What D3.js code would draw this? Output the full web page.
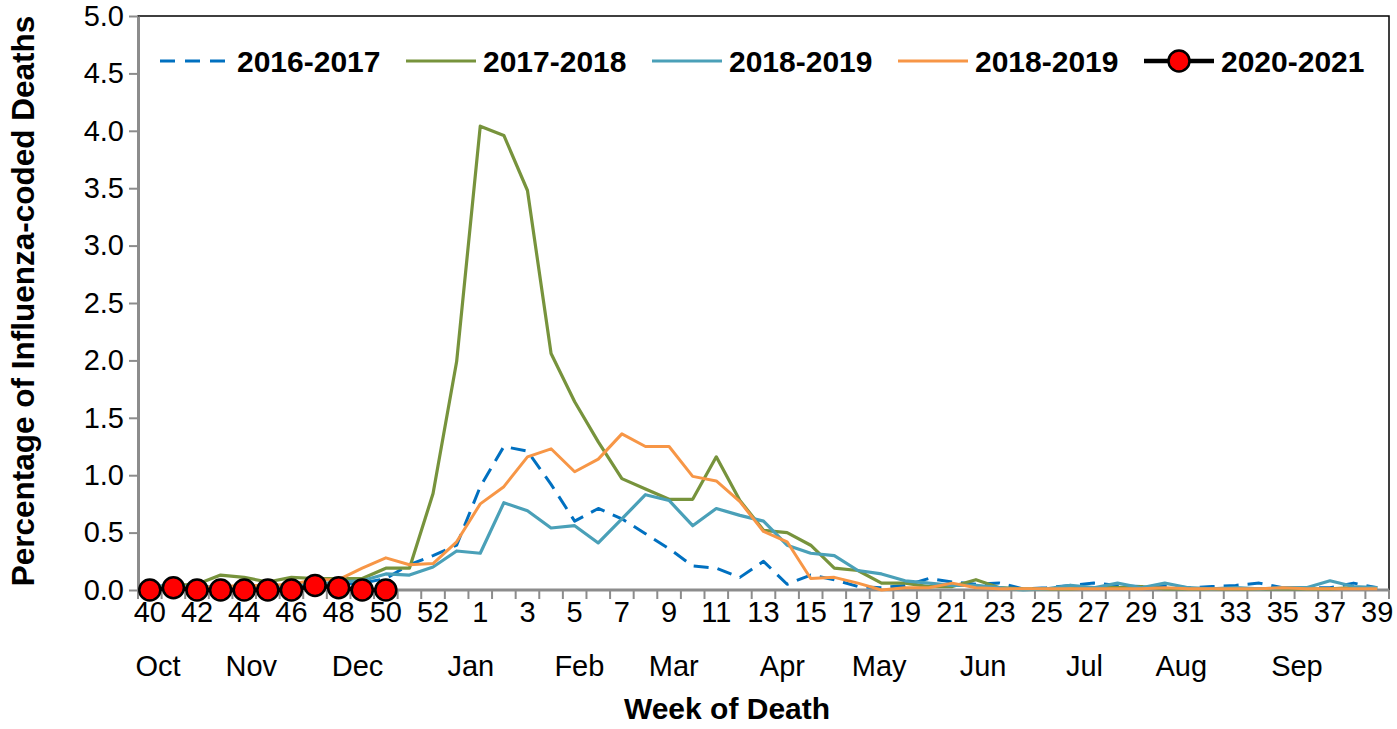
<!DOCTYPE html>
<html>
<head>
<meta charset="utf-8">
<script src="https://cdn.jsdelivr.net/npm/d3@7"></script>
<style>
    body { margin: 0; background: #fff; }
    svg { display: block; font-family: "Liberation Sans", Arial, sans-serif; }
    .tick-label { font-size: 29px; fill: #000; }
    .axis-title { font-size: 30px; font-weight: bold; fill: #000; }
    .axis-title.y-title { font-size: 31.5px; }
    .legend-label { font-size: 30px; font-weight: bold; fill: #000; }
</style>
</head>
<body>
<div id="chart"></div>
<script>
// Week numbers, Oct (week 40) through Sep (week 39)
const weeks = [40, 41, 42, 43, 44, 45, 46, 47, 48, 49, 50, 51, 52, 53,
    1, 2, 3, 4, 5, 6, 7, 8, 9, 10, 11, 12, 13, 14, 15, 16, 17, 18, 19, 20,
    21, 22, 23, 24, 25, 26, 27, 28, 29, 30, 31, 32, 33, 34, 35, 36, 37, 38, 39];

const season1617 = [0.03, 0.04, 0.03, 0.02, 0.03, 0.02, 0.03, 0.04, 0.05, 0.06, 0.10, 0.22, 0.30, 0.39,
    0.90, 1.25, 1.21, 0.92, 0.60, 0.71, 0.62, 0.49, 0.36, 0.21, 0.19, 0.11, 0.25, 0.05, 0.13, 0.09, 0.03, 0.02, 0.04, 0.10,
    0.07, 0.05, 0.06, 0.01, 0.02, 0.04, 0.06, 0.04, 0.03, 0.04, 0.02, 0.03, 0.04, 0.06, 0.02, 0.02, 0.02, 0.06, 0.02];

const season1718 = [0.02, 0.04, 0.05, 0.13, 0.11, 0.07, 0.11, 0.10, 0.10, 0.10, 0.19, 0.19, 0.84, 1.99,
    4.04, 3.96, 3.48, 2.06, 1.64, 1.29, 0.97, 0.88, 0.79, 0.79, 1.16, 0.78, 0.52, 0.50, 0.39, 0.19, 0.17, 0.06, 0.06, 0.03,
    0.03, 0.09, 0.02, 0.01, 0.01, 0.01, 0.02, 0.02, 0.03, 0.01, 0.01, 0.01, 0.01, 0.01, 0.01, 0.01, 0.01, 0.02, 0.02];

const season1819 = [0.02, 0.03, 0.03, 0.02, 0.03, 0.03, 0.04, 0.05, 0.07, 0.08, 0.14, 0.13, 0.20, 0.34,
    0.32, 0.76, 0.69, 0.54, 0.56, 0.41, 0.62, 0.83, 0.78, 0.56, 0.71, 0.65, 0.60, 0.39, 0.32, 0.30, 0.17, 0.14, 0.08, 0.06,
    0.04, 0.04, 0.02, 0.00, 0.01, 0.04, 0.02, 0.06, 0.02, 0.06, 0.02, 0.01, 0.02, 0.01, 0.02, 0.02, 0.08, 0.03, 0.02];

// second "2018-2019" series as labelled in the original legend
const season1819b = [0.01, 0.02, 0.02, 0.03, 0.04, 0.04, 0.05, 0.09, 0.09, 0.19, 0.28, 0.22, 0.23, 0.42,
    0.75, 0.90, 1.16, 1.23, 1.03, 1.14, 1.36, 1.25, 1.25, 0.99, 0.95, 0.77, 0.51, 0.42, 0.10, 0.11, 0.06, 0.00, 0.02, 0.02,
    0.06, 0.02, 0.01, 0.01, 0.01, 0.01, 0.01, 0.01, 0.01, 0.02, 0.01, 0.01, 0.01, 0.01, 0.02, 0.01, 0.01, 0.01, 0.01];

// 2020-2021 so far: weeks 40 to 50
const season2021 = [0.00, 0.02, 0.00, 0.00, 0.00, 0.00, 0.00, 0.04, 0.02, 0.00, 0.00];

const seriesNames = ["2016-2017", "2017-2018", "2018-2019", "2018-2019", "2020-2021"];
const seriesValues = [season1617, season1718, season1819, season1819b, season2021];

const yTicks = [0, 0.5, 1, 1.5, 2, 2.5, 3, 3.5, 4, 4.5, 5];
const months = ["Oct", "Nov", "Dec", "Jan", "Feb", "Mar", "Apr", "May", "Jun", "Jul", "Aug", "Sep"];
// where each month label sits, in category steps from week 40
const monthSlots = [0.35, 4.3, 8.8, 13.6, 18.2, 22.2, 26.8, 30.9, 35.3, 39.6, 43.7, 48.6];


const seriesStyles = [
    { color: "#0070c0", width: 3, dash: "15,9" },
    { color: "#77933c", width: 3.2, dash: null },
    { color: "#4aa0b8", width: 3.2, dash: null },
    { color: "#f79646", width: 3, dash: null },
    { color: "#000000", width: 4.5, dash: null, marker: true }
];


drawChart();


function drawChart() {
    const width = 1397;
    const height = 729;
    const plot = { left: 138, right: 1389, top: 16, bottom: 590 };

    const svg = d3.select("#chart").append("svg")
        .attr("width", width)
        .attr("height", height);

    const xBand = d3.scaleBand()
        .domain(weeks)
        .range([plot.left, plot.right]);
    const xCenter = (week) => xBand(week) + xBand.bandwidth() / 2.0;

    const yScale = d3.scaleLinear()
        .domain([0, 5])
        .range([plot.bottom, plot.top]);

    // plot area frame (top and right show as thin black lines)
    svg.append("rect")
        .attr("x", plot.left)
        .attr("y", plot.top)
        .attr("width", plot.right - plot.left)
        .attr("height", plot.bottom - plot.top)
        .attr("fill", "none")
        .attr("stroke", "#000")
        .attr("stroke-width", 1.5);

    // y axis
    const yAxis = svg.append("g")
        .attr("transform", `translate(${plot.left},0)`)
        .call(d3.axisLeft(yScale)
            .tickValues(yTicks)
            .tickFormat(d3.format(".1f"))
            .tickSize(9)
            .tickSizeOuter(0)
            .tickPadding(5));
    yAxis.select(".domain").attr("stroke", "#8c8c8c").attr("stroke-width", 3);
    yAxis.selectAll(".tick line").attr("stroke", "#8c8c8c").attr("stroke-width", 2);
    yAxis.selectAll(".tick text")
        .attr("class", "tick-label")
        .attr("font-family", null)
        .attr("font-size", null);

    // x axis: ticks between categories, labels on every other week
    const xAxis = svg.append("g");
    const boundaries = weeks.map(w => xBand(w)).concat([plot.right]);
    xAxis.selectAll("line.xtick")
        .data(boundaries)
        .enter()
        .append("line")
        .attr("class", "xtick")
        .attr("x1", d => d)
        .attr("x2", d => d)
        .attr("y1", plot.bottom)
        .attr("y2", plot.bottom + 9)
        .attr("stroke", "#8c8c8c")
        .attr("stroke-width", 2);
    xAxis.append("line")
        .attr("x1", plot.left)
        .attr("x2", plot.right)
        .attr("y1", plot.bottom)
        .attr("y2", plot.bottom)
        .attr("stroke", "#8c8c8c")
        .attr("stroke-width", 3);

    xAxis.selectAll("text.week")
        .data(weeks.filter((w, i) => i % 2 == 0))
        .enter()
        .append("text")
        .attr("class", "tick-label")
        .attr("text-anchor", "middle")
        .attr("x", d => xCenter(d))
        .attr("y", 622)
        .text(d => d);

    xAxis.selectAll("text.month")
        .data(months)
        .enter()
        .append("text")
        .attr("class", "tick-label")
        .attr("text-anchor", "middle")
        .attr("x", (d, i) => xCenter(weeks[0]) + monthSlots[i] * xBand.step())
        .attr("y", 676)
        .text(d => d);

    svg.append("text")
        .attr("class", "axis-title")
        .attr("text-anchor", "middle")
        .attr("x", 727)
        .attr("y", 719)
        .text("Week of Death");

    svg.append("text")
        .attr("class", "axis-title y-title")
        .attr("text-anchor", "middle")
        .attr("transform", "translate(34,301) rotate(-90)")
        .text("Percentage of Influenza-coded Deaths");

    // series lines
    const line = d3.line()
        .x(d => xCenter(d.week))
        .y(d => yScale(d.value));

    seriesValues.forEach((values, i) => {
        const style = seriesStyles[i];
        const points = values.map((v, j) => ({ week: weeks[j], value: v }));

        svg.append("path")
            .datum(points)
            .attr("d", line)
            .attr("fill", "none")
            .attr("stroke", style.color)
            .attr("stroke-width", style.width)
            .attr("stroke-dasharray", style.dash)
            .attr("stroke-linejoin", "round");

        if (style.marker) {
            svg.append("g")
                .selectAll("circle")
                .data(points)
                .enter()
                .append("circle")
                .attr("cx", d => xCenter(d.week))
                .attr("cy", d => yScale(d.value))
                .attr("r", 10.5)
                .attr("fill", "#ff0000")
                .attr("stroke", "#000")
                .attr("stroke-width", 2.5);
        }
    });

    // legend
    const legend = svg.append("g");
    seriesNames.forEach((name, i) => {
        const style = seriesStyles[i];
        const x = 160 + i * 246;
        const y = 61;

        legend.append("line")
            .attr("x1", x)
            .attr("x2", x + 70)
            .attr("y1", y)
            .attr("y2", y)
            .attr("stroke", style.color)
            .attr("stroke-width", style.width)
            .attr("stroke-dasharray", style.dash ? "15,10" : null);

        if (style.marker) {
            legend.append("circle")
                .attr("cx", x + 35)
                .attr("cy", y)
                .attr("r", 10.5)
                .attr("fill", "#ff0000")
                .attr("stroke", "#000")
                .attr("stroke-width", 2.5);
        }

        legend.append("text")
            .attr("class", "legend-label")
            .attr("x", x + 77)
            .attr("y", y + 11)
            .text(name);
    });
}
</script>
</body>
</html>
